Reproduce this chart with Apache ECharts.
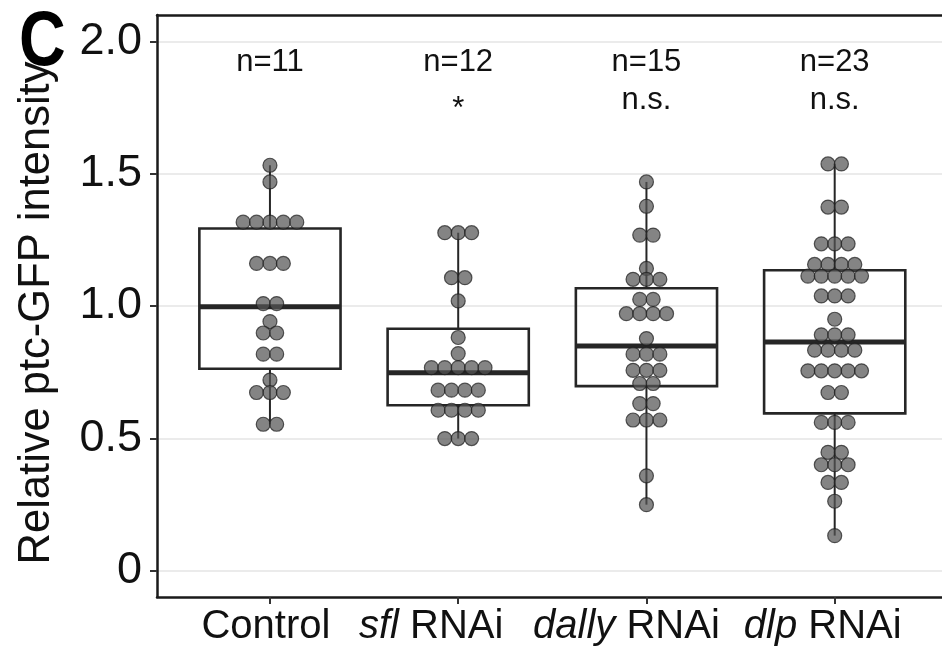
<!DOCTYPE html>
<html>
<head>
<meta charset="utf-8">
<script src="https://cdn.jsdelivr.net/npm/echarts@6/dist/echarts.min.js"></script>
<style>
  html, body { margin: 0; padding: 0; background: #fff; }
  #chart { width: 942px; height: 652px; }
</style>
</head>
<body>
<div id="chart"></div>
<script>
// groups on the x axis
var categories = ['Control', 'sfl RNAi', 'dally RNAi', 'dlp RNAi'];
var nLabels = ['n=11', 'n=12', 'n=15', 'n=23'];
var sigLabels = ['', '*', 'n.s.', 'n.s.'];
var yTicks = [0, 0.5, 1.0, 1.5, 2.0];

// box stats: lower whisker, Q1, median, Q3, upper whisker
var boxControl = [0.553, 0.763, 0.997, 1.293, 1.532];
var boxSfl     = [0.499, 0.625, 0.748, 0.914, 1.277];
var boxDally   = [0.249, 0.697, 0.849, 1.067, 1.469];
var boxDlp     = [0.132, 0.594, 0.864, 1.135, 1.537];

var dotsControl = [1.532, 1.469, 1.317, 1.317, 1.317, 1.317, 1.317, 1.161, 1.161, 1.161,
  1.009, 1.009, 0.941, 0.898, 0.898, 0.818, 0.818, 0.720, 0.673, 0.673, 0.673, 0.553, 0.553];
var dotsSfl = [1.277, 1.277, 1.277, 1.107, 1.107, 1.019, 0.881, 0.820,
  0.767, 0.767, 0.767, 0.767, 0.767, 0.682, 0.682, 0.682, 0.682,
  0.606, 0.606, 0.606, 0.606, 0.499, 0.499, 0.499];
var dotsDally = [1.469, 1.377, 1.268, 1.268, 1.142, 1.101, 1.101, 1.101, 1.025, 1.025,
  0.971, 0.971, 0.971, 0.971, 0.877, 0.818, 0.818, 0.818, 0.757, 0.757, 0.757,
  0.707, 0.707, 0.631, 0.631, 0.569, 0.569, 0.569, 0.358, 0.249];
var dotsDlp = [1.537, 1.537, 1.374, 1.374, 1.235, 1.235, 1.235, 1.157, 1.157, 1.157, 1.157,
  1.113, 1.113, 1.113, 1.113, 1.113, 1.038, 1.038, 1.038, 0.950, 0.891, 0.891, 0.891,
  0.833, 0.833, 0.833, 0.833, 0.755, 0.755, 0.755, 0.755, 0.755, 0.673, 0.673,
  0.560, 0.560, 0.560, 0.447, 0.447, 0.400, 0.400, 0.400, 0.333, 0.333, 0.262, 0.132];

var boxes = [boxControl, boxSfl, boxDally, boxDlp];
var dots = [dotsControl, dotsSfl, dotsDally, dotsDlp];

var FONT = '"Liberation Sans", Arial, Helvetica, sans-serif';
var DOT_STEP = 0.0712;          // horizontal step between dots sharing a row (x units)
var PX_PER_UNIT = 188.2;
var labelNudge = [-4, -27, -20, -12]; // px, category labels sit a bit left of their tick in the original

// centred dot stacking like geom_dotplot(stackdir = "center")
var dotData = [];
dots.forEach(function (vals, g) {
  var rows = {};
  vals.forEach(function (v) { (rows[v] = rows[v] || []).push(v); });
  Object.keys(rows).forEach(function (k) {
    var r = rows[k];
    for (var i = 0; i < r.length; i++) {
      dotData.push([g + 1 + (i - (r.length - 1) / 2) * DOT_STEP, r[i]]);
    }
  });
});

var boxData = boxes.map(function (b, g) { return [g + 1].concat(b); });

var textData = [];
nLabels.forEach(function (t, g) { textData.push([g + 1, 1.921, t]); });
sigLabels.forEach(function (t, g) {
  if (t) textData.push([g + 1, t === '*' ? 1.743 : 1.778, t]);
});

var xLabelPos = labelNudge.map(function (d, g) { return g + 1 + d / PX_PER_UNIT; });

var chart = echarts.init(document.getElementById('chart'));

var option = {
  animation: false,
  backgroundColor: '#fff',
  grid: { left: 157, right: 0, top: 15, bottom: 55 },
  graphic: [{
    type: 'text', left: 19, top: 5, scaleX: 0.84,
    style: { text: 'C', font: 'bold 77px ' + FONT, fill: '#000' }
  }],
  xAxis: [{
    type: 'value', min: 0.4, max: 4.57,
    axisLine: { show: true, onZero: false, lineStyle: { color: '#1a1a1a', width: 2.5 } },
    axisTick: { show: true, length: 7, customValues: [1, 2, 3, 4], lineStyle: { color: '#333', width: 2 } },
    splitLine: { show: false },
    axisLabel: {
      customValues: xLabelPos,
      hideOverlap: false,
      margin: 10,
      fontSize: 40,
      fontFamily: FONT,
      color: '#111',
      formatter: function (v) {
        var c = categories[Math.round(v) - 1];
        if (c === 'Control') return '{n|Control}';
        var p = c.split(' ');
        return '{i|' + p[0] + '} {n|' + p[1] + '}';
      },
      rich: {
        i: { fontSize: 40, fontFamily: FONT, fontStyle: 'italic', color: '#111' },
        n: { fontSize: 40, fontFamily: FONT, color: '#111' }
      }
    }
  }, {
    type: 'value', position: 'top', min: 0.4, max: 4.57,
    axisLine: { show: true, onZero: false, lineStyle: { color: '#1a1a1a', width: 2.5 } },
    axisTick: { show: false }, axisLabel: { show: false }, splitLine: { show: false }
  }],
  yAxis: {
    type: 'value', min: -0.1, max: 2.1,
    name: 'Relative ptc-GFP intensity',
    nameLocation: 'middle',
    nameGap: 98,
    nameTextStyle: { fontSize: 43.5, fontFamily: FONT, color: '#111', padding: [0, 14, 0, 0] },
    axisLine: { show: true, onZero: false, lineStyle: { color: '#1a1a1a', width: 2.5 } },
    axisTick: { show: true, length: 7, customValues: yTicks, lineStyle: { color: '#333', width: 2 } },
    axisLabel: {
      customValues: yTicks,
      margin: 15,
      fontSize: 45,
      fontFamily: FONT,
      color: '#111',
      formatter: function (v) { return v === 0 ? '0' : v.toFixed(1); }
    },
    splitLine: { show: true, lineStyle: { color: '#ebebeb', width: 2 } }
  },
  series: [{
    type: 'custom',
    name: 'box',
    z: 2,
    data: boxData,
    encode: { x: 0, y: [1, 2, 3, 4, 5] },
    renderItem: function (params, api) {
      var x = api.value(0);
      var lo = api.coord([x, api.value(1)]);
      var q1 = api.coord([x, api.value(2)]);
      var md = api.coord([x, api.value(3)]);
      var q3 = api.coord([x, api.value(4)]);
      var hi = api.coord([x, api.value(5)]);
      var left = api.coord([x - 0.375, 0])[0];
      var right = api.coord([x + 0.375, 0])[0];
      var ink = '#262626';
      return {
        type: 'group',
        children: [
          { type: 'line', shape: { x1: hi[0], y1: hi[1], x2: q3[0], y2: q3[1] }, style: { stroke: ink, lineWidth: 2 } },
          { type: 'line', shape: { x1: q1[0], y1: q1[1], x2: lo[0], y2: lo[1] }, style: { stroke: ink, lineWidth: 2 } },
          { type: 'rect', shape: { x: left, y: q3[1], width: right - left, height: q1[1] - q3[1] },
            style: { fill: 'rgba(255,255,255,0)', stroke: ink, lineWidth: 2.6 } },
          { type: 'line', shape: { x1: left, y1: md[1], x2: right, y2: md[1] }, style: { stroke: ink, lineWidth: 5 } }
        ]
      };
    }
  }, {
    type: 'scatter',
    name: 'dots',
    z: 3,
    data: dotData,
    symbol: 'circle',
    symbolSize: 14,
    itemStyle: { color: '#555', borderColor: '#1e1e1e', borderWidth: 1.2, opacity: 0.72 }
  }, {
    type: 'custom',
    name: 'labels',
    z: 4,
    data: textData,
    encode: { x: 0, y: 1 },
    renderItem: function (params, api) {
      var p = api.coord([api.value(0), api.value(1)]);
      return {
        type: 'text',
        x: p[0], y: p[1],
        style: {
          text: textData[params.dataIndex][2],
          font: '31px ' + FONT,
          fill: '#111',
          align: 'center',
          verticalAlign: 'middle'
        }
      };
    }
  }]
};

chart.setOption(option);
</script>
</body>
</html>
